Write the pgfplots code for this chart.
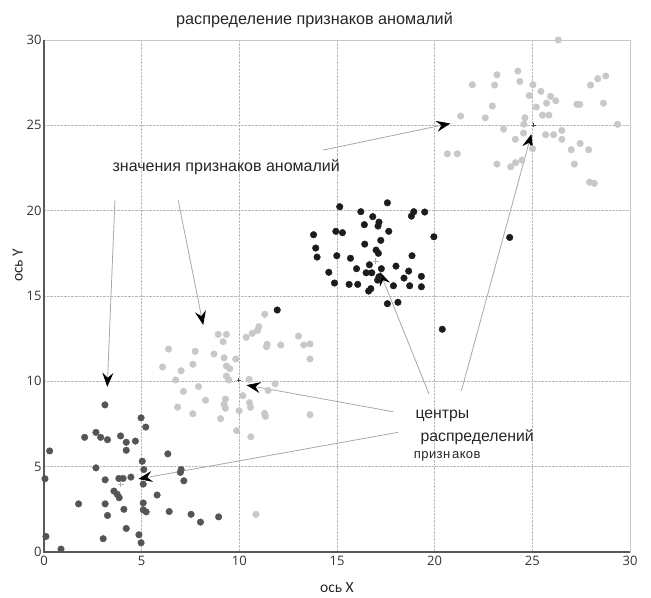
\documentclass[border=0pt]{standalone}
\usepackage{pgfplots}
\pgfplotsset{compat=1.18}
\usepackage{fontspec}
\setmainfont{Liberation Sans}
\newfontfamily\tickfont{Open Sans}
\newfontfamily\labfont{Carlito}
\usetikzlibrary{arrows.meta}
\definecolor{darkpt}{HTML}{555555}
\definecolor{lightpt}{HTML}{C8C8C8}
\definecolor{blackpt}{HTML}{1C1C1C}
\definecolor{arrline}{HTML}{A8A8A8}
\begin{document}
\begin{tikzpicture}
\useasboundingbox (-44bp,-46bp) rectangle (607bp,552bp);
\begin{axis}[
  scale only axis, width=586bp, height=512bp,
  xmin=0, xmax=30, ymin=0, ymax=30,
  xtick={0,5,...,30}, ytick={0,5,...,30},
  major tick length=0pt,
  grid=major,
  major grid style={densely dotted, gray!55, line width=0.7bp},
  axis line style={gray!45, line width=0.8bp},
  /pgf/number format/assume math mode=true,
  tick label style={font=\tickfont\fontsize{13bp}{15bp}\selectfont, text=black!80},
  xticklabel style={yshift=-1bp},
  yticklabel style={xshift=1bp},
  clip=false,
  axis on top=false,
]
\draw[black!65, line width=2bp] (axis cs:0,30) -- (axis cs:0,0) -- (axis cs:30,0);

% dark cluster
\addplot[only marks, mark=*, mark size=3.3bp, darkpt, mark options={draw=darkpt, fill=darkpt}] coordinates {
(3.12,8.62) (4.97,7.86) (5.21,7.32) (2.66,7.01) (2.08,6.72) (2.90,6.72) (3.25,6.58)
(3.92,6.80) (4.21,6.43) (4.68,6.50) (4.21,5.96) (0.29,5.92) (6.34,5.75) (5.03,5.32)
(2.66,4.93) (5.11,4.83) (7.02,4.83) (6.98,4.66) (0.05,4.29) (3.13,4.23) (3.83,4.31)
(4.05,4.31) (4.45,4.39) (7.16,4.17) (5.08,3.98) (3.58,3.57) (3.75,3.38) (3.85,3.18)
(5.79,3.34) (1.77,2.82) (3.13,2.82) (5.08,2.87) (4.09,2.50) (5.08,2.47) (5.23,2.35)
(6.41,2.37) (3.25,2.14) (7.53,2.21) (8.94,2.06) (8.01,1.75) (4.21,1.38) (4.86,1.01)
(0.10,0.91) (3.03,0.78) (4.97,0.54) (0.87,0.17)
};
% light cluster (middle)
\addplot[only marks, mark=*, mark size=3.3bp, lightpt, mark options={draw=lightpt, fill=lightpt}] coordinates {
(11.30,13.93) (8.92,12.75) (9.34,12.75) (9.17,12.32) (10.35,12.58) (10.66,12.81)
(10.93,12.97) (11.00,13.20) (13.03,12.65) (13.30,12.13) (13.62,12.19) (13.62,11.31)
(11.42,12.17) (11.39,12.03) (12.12,12.13) (6.38,11.89) (7.74,11.76) (8.70,11.60)
(9.22,11.38) (9.82,11.31) (7.62,11.00) (6.07,10.84) (7.02,10.62) (9.34,10.90)
(9.51,10.74) (9.34,10.31) (9.46,10.08) (6.74,10.08) (10.50,10.12) (11.83,9.86)
(11.47,9.47) (7.91,9.69) (7.14,9.41) (10.18,9.16) (8.27,8.89) (9.29,8.96) (9.22,8.65)
(9.29,8.42) (10.52,8.75) (10.57,8.48) (6.84,8.49) (7.62,8.10) (9.04,7.81) (9.99,8.28)
(11.29,8.12) (11.34,7.95) (13.62,8.04) (9.86,7.11) (10.59,6.75) (10.85,2.21)
};
% light cluster (top right)
\addplot[only marks, mark=*, mark size=3.3bp, lightpt, mark options={draw=lightpt, fill=lightpt}] coordinates {
(26.33,30.0) (23.19,27.96) (24.26,28.18) (24.36,27.57) (23.07,27.36) (21.93,27.38)
(25.03,27.38) (25.44,26.99) (24.84,26.75) (25.93,26.70) (26.20,26.44) (25.73,26.30)
(25.20,26.07) (22.95,26.13) (27.98,27.36) (28.35,27.73) (28.76,27.89) (28.64,26.30)
(27.28,26.23) (27.43,26.23) (25.52,25.60) (25.85,25.60) (24.62,25.44) (21.33,25.54)
(22.59,25.44) (24.57,25.07) (23.53,24.78) (24.55,24.55) (24.13,24.18) (25.68,24.45)
(26.09,24.45) (26.51,24.70) (26.51,24.18) (29.36,25.06) (27.45,23.94) (26.99,23.57)
(27.88,23.57) (25.01,23.63) (20.65,23.33) (21.16,23.33) (23.19,22.73) (23.89,22.57)
(24.14,22.81) (24.47,22.96) (27.15,22.73) (27.93,21.67) (28.17,21.60)
};
% black cluster
\addplot[only marks, mark=*, mark size=3.3bp, blackpt, mark options={draw=blackpt, fill=blackpt}] coordinates {
(11.94,14.18) (15.14,20.23) (17.58,20.46) (16.22,19.94) (16.83,19.65) (16.40,19.18)
(17.15,19.33) (17.10,19.10) (17.65,18.79) (18.81,19.68) (18.93,19.94) (19.49,19.92)
(13.80,18.59) (14.94,18.79) (15.28,18.71) (19.96,18.47) (17.24,18.26) (16.42,18.04)
(13.91,17.81) (13.98,17.28) (14.99,17.36) (15.69,17.21) (17.00,17.69) (17.12,17.50)
(18.84,17.36) (16.66,16.83) (16.00,16.60) (14.58,16.39) (16.49,16.36) (16.78,16.36)
(17.27,16.60) (17.15,16.13) (17.08,15.93) (18.02,16.75) (18.67,16.46) (18.43,16.05)
(19.32,16.15) (14.87,15.76) (15.62,15.68) (16.06,15.68) (17.89,15.60) (18.72,15.60)
(19.32,15.54) (16.73,15.43) (16.62,15.29) (17.58,14.55) (18.12,14.63) (20.39,13.05)
(23.84,18.43)
};
% centres
\addplot[only marks, mark=+, mark size=3bp, gray!60, line width=0.6bp] coordinates {(3.92,3.98) (16.98,17.05)};
\addplot[only marks, mark=+, mark size=2bp, black!70, line width=0.6bp] coordinates {(9.97,10.08) (25.06,25.0)};

% arrows
\tikzset{ann/.style={arrline, line width=0.8bp, -{Stealth[length=14bp, width=11bp, inset=5bp, color=black]}}}
\draw[ann] (axis cs:3.63,20.6) -- (axis cs:3.24,9.68);
\draw[ann] (axis cs:6.87,20.6) -- (axis cs:8.15,13.3);
\draw[ann] (axis cs:14.29,23.55) -- (axis cs:20.80,25.11);
\draw[ann] (axis cs:17.87,8.22) -- (axis cs:10.37,9.78);
\draw[ann] (axis cs:18.12,7.01) -- (axis cs:4.83,4.28);
\draw[ann] (axis cs:19.71,9.26) -- (axis cs:17.19,16.42);
\draw[ann] (axis cs:21.37,9.45) -- (axis cs:24.95,24.49);

% texts
\node[font=\fontsize{16.2bp}{18bp}\selectfont, text=black!85] at (axis cs:13.85,31.17) {распределение признаков аномалий};
\node[font=\fontsize{16bp}{18bp}\selectfont, text=black!85] at (axis cs:9.33,22.57) {значения признаков аномалий};
\node[font=\fontsize{15.8bp}{18bp}\selectfont, text=black!85, anchor=west, inner sep=0pt] at (axis cs:19.01,7.97) {центры};
\node[font=\fontsize{15.8bp}{18bp}\selectfont, text=black!85, anchor=west, inner sep=0pt] at (axis cs:19.27,6.75) {распределений};
\node[font=\fontsize{13bp}{15bp}\selectfont, text=black!85, anchor=west, inner sep=0pt] at (axis cs:18.93,5.58) {п\kern0.4bp р\kern0.4bp и\kern0.4bp з\kern0.4bp н\kern2bp а\kern0.4bp к\kern0.4bp о\kern0.4bp в};
\node[font=\labfont\fontsize{15.5bp}{17bp}\selectfont, text=black!85] at (axis cs:15,-2.1) {ось X};
\node[font=\labfont\fontsize{15.5bp}{17bp}\selectfont, text=black!85, rotate=90] at (axis cs:-1.35,16.8) {ось Y};
\end{axis}
\end{tikzpicture}
\end{document}
